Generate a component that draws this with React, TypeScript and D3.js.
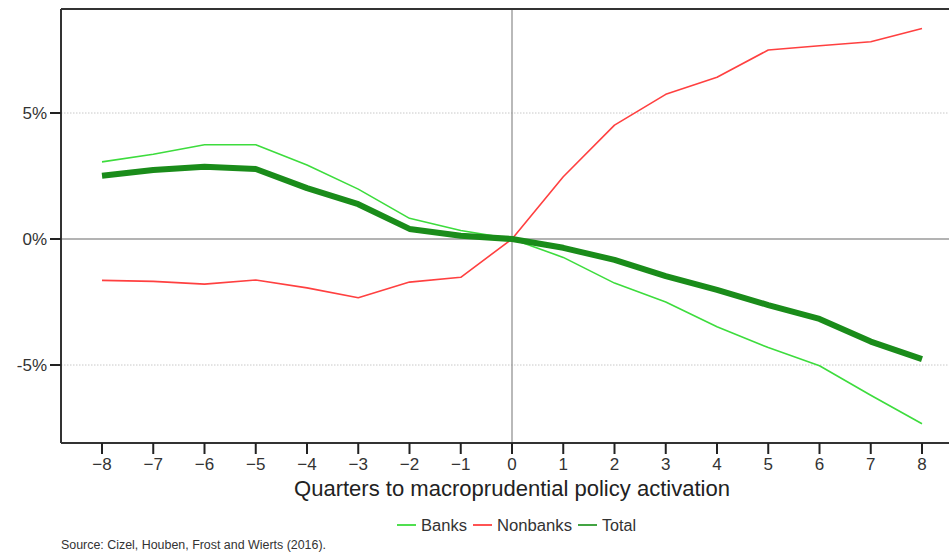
import React from "react";
import * as d3 from "d3";

const W = 949;
const H = 552;

const quarters = [-8, -7, -6, -5, -4, -3, -2, -1, 0, 1, 2, 3, 4, 5, 6, 7, 8];
const banks = [3.06, 3.36, 3.74, 3.74, 2.94, 1.98, 0.82, 0.34, 0, -0.73, -1.75, -2.5, -3.48, -4.31, -5.03, -6.2, -7.33];
const nonbanks = [-1.64, -1.68, -1.79, -1.63, -1.94, -2.33, -1.71, -1.52, 0, 2.47, 4.52, 5.74, 6.42, 7.5, 7.67, 7.83, 8.35];
const total = [2.51, 2.74, 2.87, 2.78, 2.02, 1.38, 0.4, 0.13, 0, -0.35, -0.83, -1.47, -2.02, -2.62, -3.17, -4.07, -4.77];
const yTicks = [-5, 0, 5];

const series = [
  { name: "Banks", values: banks, color: "#3ddc3d", width: 1.6 },
  { name: "Nonbanks", values: nonbanks, color: "#ff4040", width: 1.6 },
  { name: "Total", values: total, color: "#1a8c1a", width: 6 },
];

const FONT = "'Liberation Sans Narrow', 'Arial Narrow', 'Liberation Sans', Arial, sans-serif";

const plot = { left: 61, top: 9, right: W, bottom: 443 };

// legend: x start of sample line, measured width of label text
const legendItems = [
  { name: "Banks", color: "#3ddc3d", x0: 397, tw: 46 },
  { name: "Nonbanks", color: "#ff4040", x0: 473, tw: 75 },
  { name: "Total", color: "#2e9a2e", x0: 578, tw: 34 },
];

export default function App() {
  const x = d3.scaleLinear().domain([-8, 8]).range([102, 922]);
  const y = d3.scaleLinear().domain([5, -5]).range([113, 365]);

  const line = (vals: number[]) =>
    d3
      .line<number>()
      .x((_, i) => x(quarters[i]))
      .y((d) => y(d))(vals) || "";

  return (
    <svg
      width={W}
      height={H}
      style={{ position: "absolute", left: 0, top: 0, display: "block", background: "#fff" }}
    >
      {/* grid */}
      {yTicks
        .filter((t) => t !== 0)
        .map((t) => (
          <line key={t} x1={plot.left} x2={plot.right} y1={y(t)} y2={y(t)} stroke="#c8c8c8" strokeWidth={1} strokeDasharray="1.5,1.5" />
        ))}
      <line x1={plot.left} x2={plot.right} y1={y(0)} y2={y(0)} stroke="#9a9a9a" strokeWidth={1.5} />
      <line x1={x(0)} x2={x(0)} y1={plot.top} y2={plot.bottom} stroke="#8a8a8a" strokeWidth={1.2} />

      {/* series */}
      {series.map((s) => (
        <path key={s.name} d={line(s.values)} fill="none" stroke={s.color} strokeWidth={s.width} strokeLinejoin="round" />
      ))}

      {/* frame */}
      <line x1={plot.left} x2={plot.right} y1={plot.top} y2={plot.top} stroke="#333" strokeWidth={2} />
      <line x1={plot.left} x2={plot.left} y1={plot.top} y2={plot.bottom} stroke="#333" strokeWidth={2} />
      <line x1={plot.left} x2={plot.right} y1={plot.bottom} y2={plot.bottom} stroke="#333" strokeWidth={2} />

      {/* y axis */}
      {yTicks.map((t) => (
        <g key={t}>
          <line x1={plot.left - 11} x2={plot.left} y1={y(t)} y2={y(t)} stroke="#222" strokeWidth={2} />
          <text x={47} y={y(t)} dy="0.36em" textAnchor="end" fontFamily={FONT} fontSize={17} fill="#333">
            {`${t}%`}
          </text>
        </g>
      ))}

      {/* x axis */}
      {quarters.map((q) => (
        <g key={q}>
          <line x1={x(q)} x2={x(q)} y1={plot.bottom} y2={plot.bottom + 11} stroke="#222" strokeWidth={2} />
          <text x={x(q)} y={470} textAnchor="middle" fontFamily={FONT} fontSize={17} fill="#333">
            {q < 0 ? `\u2212${Math.abs(q)}` : q}
          </text>
        </g>
      ))}
      <text
        x={294}
        y={496}
        fontFamily={FONT}
        fontSize={22}
        fill="#222"
        textLength={436}
        lengthAdjust="spacingAndGlyphs"
      >
        Quarters to macroprudential policy activation
      </text>

      {/* legend */}
      {legendItems.map((l) => (
        <g key={l.name}>
          <line x1={l.x0} x2={l.x0 + 19} y1={525} y2={525} stroke={l.color} strokeWidth={1.8} />
          <text
            x={l.x0 + 24}
            y={531}
            fontFamily={FONT}
            fontSize={16}
            fill="#333"
            textLength={l.tw}
            lengthAdjust="spacingAndGlyphs"
          >
            {l.name}
          </text>
        </g>
      ))}

      <text
        x={61}
        y={549}
        fontFamily={FONT}
        fontSize={12}
        fill="#333"
        textLength={265}
        lengthAdjust="spacingAndGlyphs"
      >
        Source: Cizel, Houben, Frost and Wierts (2016).
      </text>
    </svg>
  );
}
